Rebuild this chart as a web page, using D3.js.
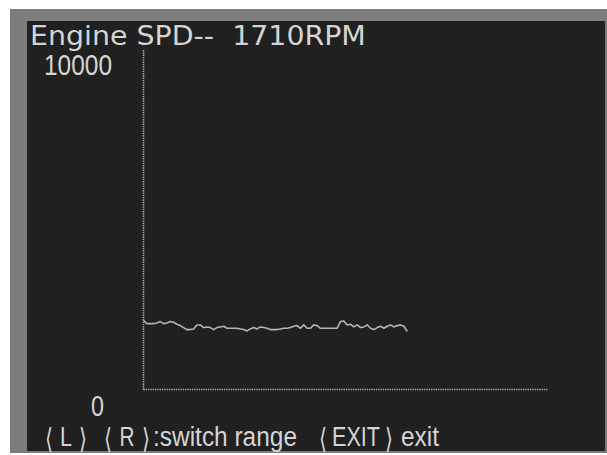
<!DOCTYPE html>
<html>
<head>
<meta charset="utf-8">
<script src="https://cdn.jsdelivr.net/npm/d3@7"></script>
<style>
  html, body { margin: 0; padding: 0; background: #ffffff; }
  svg { display: block; }
  text { white-space: pre; }
</style>
</head>
<body>
<script>
// Engine speed trend, one reading per sample
const rpmSamples = [
  2039, 1941, 1941, 1941, 1961, 2000, 1941, 1961, 2000, 1980,
  1922, 1882, 1824, 1765, 1765, 1784, 1902, 1902, 1824, 1843,
  1824, 1765, 1824, 1843, 1863, 1804, 1804, 1804, 1804, 1784,
  1765, 1725, 1784, 1824, 1784, 1843, 1824, 1804, 1765, 1765,
  1765, 1784, 1804, 1804, 1824, 1863, 1882, 1804, 1902, 1804,
  1804, 1902, 1882, 1804, 1804, 1804, 1804, 1804, 1804, 2000,
  2020, 1902, 1922, 1843, 1902, 1824, 1843, 1902, 1804, 1765,
  1824, 1863, 1804, 1863, 1902, 1843, 1882, 1902, 1863, 1710
];
const sampleCapacity = 121;          // samples the trace window can hold
const yTickValues = [0, 10000];
const yTickLabels = ["0", "10000"];
const titleText = "Engine SPD--  1710RPM";
// Key hints: bracketed key names followed by their action
const footerKeys = ["L", "R", "EXIT"];
const footerActions = ["", ":switch range", "exit"];

const W = 607, H = 455;
const svg = d3.select("body").append("svg").attr("width", W).attr("height", H);

// Bezel and screen
svg.append("rect").attr("x", 10).attr("y", 9).attr("width", 597).attr("height", 444).attr("fill", "#7c7c7c");
svg.append("rect").attr("x", 27).attr("y", 21).attr("width", 578).attr("height", 430).attr("fill", "#202020");

const x = d3.scaleLinear().domain([0, sampleCapacity]).range([143.5, 547.5]);
const y = d3.scaleLinear().domain([yTickValues[0], yTickValues[1]]).range([389.5, 50]);

// Dotted axes
const axisColor = "#a8a8a8";
svg.append("line")
  .attr("x1", x(0)).attr("x2", x(0))
  .attr("y1", y(yTickValues[1])).attr("y2", y(yTickValues[0]))
  .attr("stroke", axisColor).attr("stroke-width", 1.6).attr("stroke-dasharray", "1.4,0.9");
svg.append("line")
  .attr("x1", x(0)).attr("x2", x(sampleCapacity))
  .attr("y1", y(0)).attr("y2", y(0))
  .attr("stroke", axisColor).attr("stroke-width", 1.6).attr("stroke-dasharray", "1.4,0.9");

// Speed trace
const line = d3.line().x((d, i) => x(i)).y(d => y(d));
svg.append("path")
  .datum(rpmSamples)
  .attr("d", line)
  .attr("fill", "none")
  .attr("stroke", "#b4b4b4")
  .attr("stroke-width", 1.6)
  .attr("stroke-linejoin", "round");

const condensed = "'Liberation Sans Narrow', 'Liberation Sans', sans-serif";
const bracketFont = "'DejaVu Sans', sans-serif";
const textColor = "#d4d4d4";

// Draws a string squeezed horizontally so it spans exactly `width` pixels
function fitText(parent, str, px, py, width, family, size) {
  const t = parent.append("text")
    .attr("font-family", family).attr("font-size", size)
    .attr("fill", textColor).text(str);
  const natural = t.node().getComputedTextLength() || width;
  t.attr("transform", `translate(${px},${py}) scale(${width / natural},1)`);
  return t;
}

// Range labels
fitText(svg, yTickLabels[1], 44, y(yTickValues[1]) + 25, 68, condensed, 30);
fitText(svg, yTickLabels[0], 91, y(yTickValues[0]) + 26, 13, condensed, 29);

// Title
fitText(svg, titleText, 30, 45, 336, "'DejaVu Sans', 'Noto Sans', sans-serif", 27);

// Key hints, laid out left to right
const hintLayout = [
  { x0: 45, keyW: 42, keyTextW: 12, actX: 0, actW: 0 },
  { x0: 104, keyW: 46, keyTextW: 15, actX: 153, actW: 144 },
  { x0: 319, keyW: 74, keyTextW: 48, actX: 401, actW: 38 }
];
const hints = svg.selectAll("g.hint")
  .data(footerKeys.map((k, i) => ({ key: k, action: footerActions[i], ...hintLayout[i] })))
  .enter().append("g").attr("class", "hint");

hints.each(function (d) {
  const g = d3.select(this);
  const bw = 8;                       // width of each angle bracket
  fitText(g, "\u27E8", d.x0, 448, bw, bracketFont, 28);
  fitText(g, d.key, d.x0 + (d.keyW - d.keyTextW) / 2, 446, d.keyTextW, condensed, 27);
  fitText(g, "\u27E9", d.x0 + d.keyW - bw, 448, bw, bracketFont, 28);
  if (d.action) {
    fitText(g, d.action, d.actX, 446, d.actW, condensed, 27);
  }
});
</script>
</body>
</html>
